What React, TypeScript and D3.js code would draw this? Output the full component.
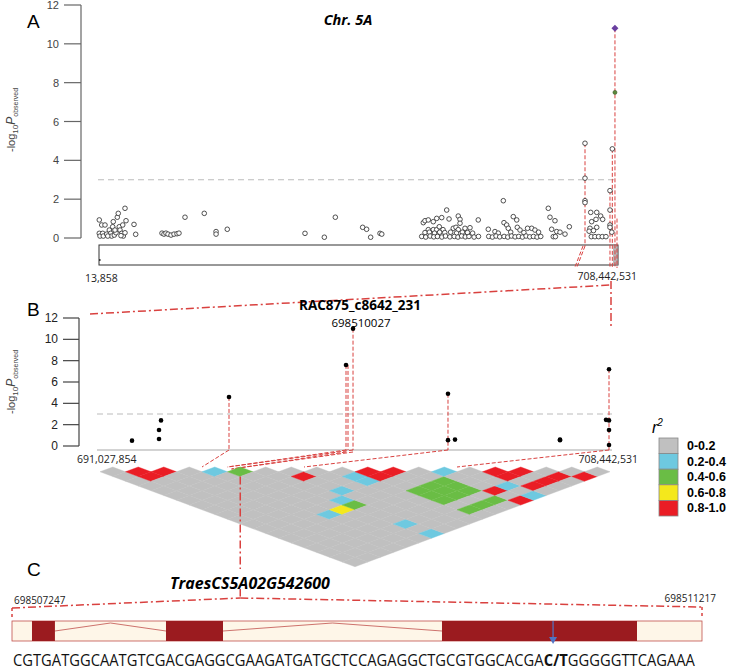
import React from 'react';
import * as d3 from 'd3';

// ---------- Panel A data: chromosome 5A (position Mb, -log10 P) ----------
const chrPos: number[] = [
  0.4, 3.7, 8.2, 0.4, 1.4, 5.1, 5.9, 14.1, 16.0, 17.3, 18.7, 19.5, 20.9, 23.2, 25.0, 26.3, 27.7, 28.7, 31.0, 32.4, 33.2, 35.5, 36.9, 35.5, 47.8, 50.1, 21.8, 10.5, 12.0, 30.0,
  86.0, 88.7, 91.4, 94.2, 98.3, 102.4, 106.5, 109.2, 117.4, 143.7, 159.8, 159.8, 175.1, 281.2, 307.6, 322.6, 359.9, 365.3, 370.8, 383.6, 386.0,
  442.7, 445.0, 449.5, 456.3, 461.0, 467.8, 474.6, 477.8, 490.4, 492.8, 492.8, 517.7, 449.5, 456.3, 461.0, 469.6, 464.5, 483.6, 487.3, 490.4, 499.6, 506.4,
  445, 451, 458, 465, 472, 480, 488, 496, 503, 510,
  440.5, 446, 452, 457, 462, 468, 473, 479, 485, 490, 495, 500, 505, 512, 518,
  551.9, 531.4, 540.5, 552.8, 556.5, 558.7, 565.5, 570.2, 571.0, 574.7, 590.6, 595.1, 600, 545, 562, 580, 585,
  532, 537, 542, 547, 553, 558, 563, 568, 573, 578, 583, 588, 593, 598, 603,
  613.3, 615.6, 622.4, 617.9, 624.8, 620.1, 623, 636.1, 642, 629.3,
  663.4, 663.4, 663.4, 663.4,
  671.2, 679.4, 672.5, 678.4, 684.8, 687.5, 670.2, 679.4, 669, 675, 672, 677, 682, 687, 692, 697.5, 697.5, 700.7, 697.5, 697.5, 700,
];
const chrLogP: number[] = [
  0.93, 0.67, 0.67, 0.24, 0.1, 0.24, 0.1, 0.41, 0.24, 0.1, 0.58, 0.84, 0.15, 0.27, 1.07, 1.27, 0.58, 0.41, 0.24, 0.67, 0.1, 1.53, 0.89, 0.27, 0.7, 0.19, 0.41, 0.2, 0.1, 0.12,
  0.25, 0.2, 0.25, 0.2, 0.15, 0.2, 0.22, 0.25, 1.07, 1.27, 0.33, 0.2, 0.45, 0.24, 0.04, 1.07, 0.55, 0.45, 0.04, 0.24, 0.2,
  0.79, 0.89, 0.93, 0.84, 1.01, 1.05, 1.44, 0.98, 1.13, 0.96, 0.76, 0.93, 0.43, 0.43, 0.43, 0.43, 0.58, 0.5, 0.55, 0.43, 0.5, 0.53,
  0.28, 0.3, 0.25, 0.3, 0.28, 0.3, 0.25, 0.3, 0.28, 0.25,
  0.08, 0.05, 0.1, 0.06, 0.08, 0.05, 0.1, 0.06, 0.08, 0.05, 0.1, 0.06, 0.08, 0.05, 0.08,
  1.92, 0.45, 0.33, 0.79, 0.67, 0.5, 1.1, 0.93, 0.55, 0.41, 0.5, 0.41, 0.3, 0.25, 0.3, 0.28, 0.5,
  0.08, 0.05, 0.1, 0.06, 0.08, 0.05, 0.1, 0.06, 0.08, 0.05, 0.1, 0.06, 0.08, 0.05, 0.08,
  1.53, 1.07, 0.89, 0.45, 0.33, 0.07, 0.07, 0.2, 0.58, 0.3,
  4.88, 3.08, 1.92, 1.82,
  1.32, 1.32, 0.84, 0.96, 1.13, 0.96, 0.5, 0.55, 0.35, 0.38, 0.07, 0.07, 0.07, 0.07, 0.07, 1.44, 2.44, 4.59, 0.67, 0.55, 0.3,
];
const chrLead: [number, number] = [704.3, 10.8];
const chrSecond: [number, number] = [704.3, 7.5];
const chrHighlight: [number, number][] = [[697.5, 2.44], [700.7, 4.59], [704.3, 10.8]];
const chrHighlightLeft: [number, number] = [663.4, 4.88];
const chrStart = 0.013858;
const chrEnd = 708.442531;
const chrZoomFrom = 701.6;
const chrTicks = [0, 2, 4, 6, 8, 10, 12];

// ---------- Panel B data: region (position Mb, -log10 P) ----------
const regPos: number[] = [692.216, 693.133, 693.133, 693.201, 695.509, 699.481, 699.719, 702.943, 702.943, 703.181, 706.745, 706.745, 708.307, 708.409, 708.409, 708.409, 708.409];
const regLogP: number[] = [0.5, 1.5, 0.65, 2.4, 4.6, 7.6, 11.0, 4.9, 0.55, 0.6, 0.6, 0.55, 2.45, 7.2, 2.4, 1.5, 0.1];
const regStems: number[] = [695.509, 699.481, 699.719, 702.943, 708.409];
const regStemTops: number[] = [4.6, 7.6, 11.0, 4.9, 7.2];
const regStart = 691.027854;
const regEnd = 708.442531;
const regToLd: [number, number][] = [[695.509, 4], [699.481, 5], [699.719, 5], [702.943, 8], [708.409, 14]];
const threshold = 3;

// ---------- LD heatmap (r2 class per SNP pair; unspecified = 0-0.2) ----------
const ldN = 21;
const ldRed: [number, number][] = [[1, 2], [2, 3], [1, 3], [7, 9], [10, 11], [11, 12], [10, 12], [15, 16], [16, 17], [15, 17], [13, 18], [15, 19], [16, 19], [17, 19], [13, 20], [18, 20]];
const ldCyan: [number, number][] = [[4, 5], [9, 11], [9, 12], [13, 14], [7, 12], [6, 13], [4, 14], [14, 18], [14, 20], [6, 18], [6, 20]];
const ldGreen: [number, number][] = [[5, 6], [10, 15], [10, 16], [10, 17], [11, 15], [11, 16], [11, 17], [12, 15], [12, 16], [12, 17], [10, 19], [11, 19], [12, 19], [6, 14]];
const ldYellow: [number, number][] = [[5, 14]];
const ldGeneCell: [number, number] = [5, 6];
const r2Labels = ['0-0.2', '0.2-0.4', '0.4-0.6', '0.6-0.8', '0.8-1.0'];
const r2Colors = ['#c0c0c0', '#6ec9e0', '#6abd45', '#f4e81c', '#ea1d25'];

// ---------- Panel C: gene model ----------
const geneName = 'TraesCS5A02G542600';
const geneStart = 698507247;
const geneEnd = 698511217;
const exons: [number, number][] = [[698507362, 698507494], [698508133, 698508461], [698509721, 698510843]];
const snpGenePos = 698510360;
const seqLeft = 'CGTGATGGCAATGTCGACGAGGCGAAGATGATGCTCCAGAGGCTGCGTGGCACGA';
const seqSnp = 'C/T';
const seqRight = 'GGGGGTTCAGAAA';
const leadName = 'RAC875_c8642_231';
const leadPosLabel = '698510027';

const RED = '#d9413f';
const SANS = 'Liberation Sans, Arial, sans-serif';
const CAL = 'Open Sans, Noto Sans, sans-serif';

function measure(text: string, font: string): number {
  try {
    const c = document.createElement('canvas').getContext('2d');
    if (!c) return text.length * 9.6;
    c.font = font;
    return c.measureText(text).width;
  } catch {
    return text.length * 9.6;
  }
}

export default function App() {
  const xA = d3.scaleLinear().domain([chrStart, chrEnd]).range([99, 618]);
  const yA = d3.scaleLinear().domain([0, 12]).range([238, 5]);
  const xB = d3.scaleLinear().domain([regStart, regEnd]).range([97, 610]);
  const yB = d3.scaleLinear().domain([0, 12]).range([446, 318]);
  const ldX = d3.scaleLinear().domain([0, ldN - 1]).range([100, 610]);
  const ldTop = 467;
  const cw = ldX(1) - ldX(0);
  const ch = 9.5;
  const xG = d3.scaleLinear().domain([geneStart, geneEnd]).range([12, 702]);

  const catMap = new Map<string, number>();
  ldCyan.forEach(([i, j]) => catMap.set(`${i}-${j}`, 1));
  ldGreen.forEach(([i, j]) => catMap.set(`${i}-${j}`, 2));
  ldYellow.forEach(([i, j]) => catMap.set(`${i}-${j}`, 3));
  ldRed.forEach(([i, j]) => catMap.set(`${i}-${j}`, 4));
  const cells: { i: number; j: number; c: number }[] = [];
  for (let i = 0; i < ldN; i++) for (let j = i + 1; j < ldN; j++) cells.push({ i, j, c: catMap.get(`${i}-${j}`) ?? 0 });
  const cellCenter = (i: number, j: number) => [ldX((i + j) / 2), ldTop + ((j - i) * ch) / 2];
  const diamond = (i: number, j: number) => {
    const [cx, cy] = cellCenter(i, j);
    return `${cx},${cy - ch / 2} ${cx + cw / 2},${cy} ${cx},${cy + ch / 2} ${cx - cw / 2},${cy}`;
  };

  const yLabel = (x: number, y: number) => (
    <text transform={`translate(${x},${y}) rotate(-90)`} textAnchor="middle" fontFamily={SANS} fill="#444" fontSize={11}>
      -log<tspan fontSize={8} dy={3}>10</tspan><tspan fontSize={12} fontStyle="italic" dy={-3}>P</tspan><tspan fontSize={7} dy={3}>observed</tspan>
    </text>
  );

  const [gcx, gcy] = cellCenter(ldGeneCell[0], ldGeneCell[1]);

  // sequence layout
  const fN = '16px "Open Sans"';
  const fB = 'bold 16px "Open Sans"';
  const w1 = measure(seqLeft, fN);
  const w2 = measure(seqSnp, fB);
  const w3 = measure(seqRight, fN);
  const sx = 682 / (w1 + w2 + w3);

  return (
    <svg width={730} height={670} style={{ position: 'absolute', left: 0, top: 0, background: '#fff' }}>
      {/* ================= Panel A ================= */}
      <text x={27} y={28} fontFamily={SANS} fontSize={19}>A</text>
      <text x={348} y={25} textAnchor="middle" fontFamily={CAL} fontSize={14.5} fontWeight="bold" fontStyle="italic">Chr. 5A</text>
      {yLabel(15, 120)}
      <line x1={81} x2={81} y1={yA(0)} y2={yA(12)} stroke="#666" strokeWidth={1.2} />
      {chrTicks.map((t) => (
        <g key={'ta' + t}>
          <line x1={64} x2={81} y1={yA(t)} y2={yA(t)} stroke="#666" strokeWidth={1.2} />
          <text x={59} y={yA(t) + 4} textAnchor="end" fontFamily={SANS} fontSize={11} fill="#444">{t}</text>
        </g>
      ))}
      <line x1={98} x2={618} y1={yA(threshold)} y2={yA(threshold)} stroke="#bbb" strokeDasharray="6,4" />
      <rect x={xA(chrStart)} y={245} width={xA(chrEnd) - xA(chrStart)} height={20} fill="none" stroke="#333" />
      <rect x={xA(chrZoomFrom)} y={246} width={xA(chrEnd) - xA(chrZoomFrom)} height={19} fill="#9a9a9a" opacity={0.7} />
      <rect x={xA(chrStart)} y={259} width={1.5} height={2} fill="#333" />
      {/* red dashed highlights */}
      <line x1={xA(chrHighlightLeft[0])} x2={xA(chrHighlightLeft[0])} y1={yA(chrHighlightLeft[1])} y2={246} stroke={RED} strokeDasharray="4,2" />
      <line x1={xA(chrHighlightLeft[0])} x2={xA(chrHighlightLeft[0]) - 8} y1={246} y2={267} stroke={RED} strokeDasharray="4,2" />
      <line x1={xA(chrHighlightLeft[0]) - 2} x2={xA(chrHighlightLeft[0]) - 10} y1={246} y2={267} stroke={RED} strokeDasharray="4,2" />
      {chrHighlight.map(([p, v], k) => (
        <line key={'ha' + k} x1={xA(p)} x2={xA(p)} y1={yA(v)} y2={268} stroke={RED} strokeDasharray="4,2" />
      ))}
      <line x1={xA(chrEnd) - 1} x2={xA(chrEnd) - 1} y1={yA(1)} y2={268} stroke={RED} strokeDasharray="4,2" />
      {chrPos.map((p, k) => (
        <circle key={'pa' + k} cx={xA(p)} cy={yA(chrLogP[k])} r={2.3} fill="#fff" stroke="#333" strokeWidth={0.85} />
      ))}
      <circle cx={xA(chrSecond[0])} cy={yA(chrSecond[1])} r={2} fill="#5b8a3c" stroke="#3d5a2a" strokeWidth={0.6} />
      <path d={`M${xA(chrLead[0])},${yA(chrLead[1]) - 3.5} l3.5,3.5 l-3.5,3.5 l-3.5,-3.5 Z`} fill="#6a3fa0" />
      <text x={85} y={282} fontFamily={CAL} fontSize={10.5} fill="#222">13,858</text>
      <text x={637} y={280} textAnchor="end" fontFamily={CAL} fontSize={10.5} fill="#222">708,442,531</text>

      {/* connector A -> B */}
      <line x1={90} y1={314} x2={611} y2={285} stroke={RED} strokeWidth={1.5} strokeDasharray="8,3,2,3" />
      <line x1={611} y1={281} x2={611} y2={326} stroke={RED} strokeWidth={1.5} strokeDasharray="8,3,2,3" />

      {/* ================= Panel B ================= */}
      <text x={27} y={316} fontFamily={SANS} fontSize={19}>B</text>
      {yLabel(15, 382)}
      <line x1={79} x2={79} y1={yB(0)} y2={yB(12)} stroke="#444" strokeWidth={1.2} />
      {chrTicks.map((t) => (
        <g key={'tb' + t}>
          <line x1={63} x2={79} y1={yB(t)} y2={yB(t)} stroke="#444" strokeWidth={1.2} />
          <text x={58} y={yB(t) + 4} textAnchor="end" fontFamily={SANS} fontSize={12} fill="#222">{t}</text>
        </g>
      ))}
      <line x1={97} x2={612} y1={yB(threshold)} y2={yB(threshold)} stroke="#bbb" strokeDasharray="6,4" />
      <line x1={97} x2={612} y1={450} y2={450} stroke="#c4c4c4" strokeWidth={1.5} />
      {regStems.map((p, k) => (
        <g key={'st' + k}>
          <line x1={xB(p)} x2={xB(p)} y1={yB(regStemTops[k])} y2={450} stroke={RED} strokeDasharray="4,2" />
          {k === 1 && <line x1={xB(p) + 2} x2={xB(p) + 2} y1={yB(regStemTops[k])} y2={450} stroke={RED} strokeDasharray="4,2" />}
        </g>
      ))}
      {regToLd.map(([p, idx], k) => (
        <g key={'cn' + k}>
          <line x1={xB(p)} y1={450} x2={ldX(idx)} y2={ldTop} stroke={RED} strokeDasharray="4,2" />
          {k > 0 && k < 3 && <line x1={xB(p)} y1={452} x2={ldX(idx) + 4} y2={ldTop + 2} stroke={RED} strokeDasharray="4,2" />}
        </g>
      ))}
      {regPos.map((p, k) => (
        <circle key={'pb' + k} cx={xB(p)} cy={yB(regLogP[k])} r={2.3} fill="#000" />
      ))}
      <text x={360} y={310} textAnchor="middle" fontFamily={CAL} fontSize={13.5} fontWeight="bold">{leadName}</text>
      <text x={361} y={327} textAnchor="middle" fontFamily={CAL} fontSize={11.5}>{leadPosLabel}</text>
      <text x={77} y={463} fontFamily={CAL} fontSize={10.5} fill="#222">691,027,854</text>
      <text x={638} y={463} textAnchor="end" fontFamily={CAL} fontSize={10.5} fill="#222">708,442,531</text>

      {/* ================= LD heatmap ================= */}
      {cells.map((c) => (
        <polygon key={`c${c.i}-${c.j}`} points={diamond(c.i, c.j)} fill={r2Colors[c.c]} stroke={r2Colors[c.c]} strokeWidth={0.4} />
      ))}
      <line x1={gcx} x2={gcx} y1={gcy + ch / 2} y2={598} stroke={RED} strokeWidth={1.5} strokeDasharray="8,3,2,3" />

      {/* legend */}
      <text x={652} y={433} fontFamily={SANS} fontSize={16} fontStyle="italic">r<tspan fontSize={10} dy={-7}>2</tspan></text>
      {r2Labels.map((l, k) => (
        <g key={'lg' + k}>
          <rect x={659} y={438 + k * 15.6} width={19} height={15.6} fill={r2Colors[k]} stroke="#888" strokeWidth={0.8} />
          <text x={687} y={438 + k * 15.6 + 12} fontFamily={SANS} fontSize={12.5} fontWeight="bold">{l}</text>
        </g>
      ))}

      {/* ================= Panel C ================= */}
      <text x={27} y={576} fontFamily={SANS} fontSize={19}>C</text>
      <rect x={165} y={569} width={172} height={20} fill="#fff" />
      <text x={250} y={589} textAnchor="middle" fontFamily={CAL} fontSize={16} fontWeight="bold" fontStyle="italic">{geneName}</text>
      <line x1={xG(geneStart)} y1={608} x2={gcx} y2={598} stroke={RED} strokeWidth={1.5} strokeDasharray="8,3,2,3" />
      <line x1={gcx} y1={598} x2={xG(geneEnd)} y2={607} stroke={RED} strokeWidth={1.5} strokeDasharray="8,3,2,3" />
      <line x1={xG(geneStart)} x2={xG(geneStart)} y1={608} y2={617} stroke={RED} strokeWidth={1.5} strokeDasharray="3,3" />
      <line x1={xG(geneEnd)} x2={xG(geneEnd)} y1={607} y2={617} stroke={RED} strokeWidth={1.5} strokeDasharray="3,3" />
      <text x={14} y={604} fontFamily={CAL} fontSize={10} fill="#222">{geneStart}</text>
      <text x={716} y={602} textAnchor="end" fontFamily={CAL} fontSize={10} fill="#222">{geneEnd}</text>
      <rect x={xG(geneStart)} y={621} width={xG(geneEnd) - xG(geneStart)} height={20} fill="#fef6e8" stroke="#c0504d" strokeWidth={0.8} />
      {exons.slice(0, -1).map(([s, e], k) => {
        const a = xG(e);
        const b = xG(exons[k + 1][0]);
        return <polyline key={'in' + k} points={`${a},631 ${(a + b) / 2},623 ${b},631`} fill="none" stroke="#c0504d" strokeWidth={0.8} />;
      })}
      {exons.map(([s, e], k) => (
        <rect key={'ex' + k} x={xG(s)} y={621} width={xG(e) - xG(s)} height={20} fill="#9b1b1f" />
      ))}
      <line x1={xG(snpGenePos)} x2={xG(snpGenePos)} y1={621} y2={638} stroke="#4f74c4" strokeWidth={1.2} />
      <path d={`M${xG(snpGenePos) - 4},637 L${xG(snpGenePos) + 4},637 L${xG(snpGenePos)},644 Z`} fill="#4f74c4" />
      <g transform={`translate(13,666) scale(${sx},1)`} fill="#111">
        <text x={0} y={0} fontFamily={CAL} fontSize={16}>{seqLeft}</text>
        <text x={w1} y={0} fontFamily={CAL} fontSize={16} fontWeight="bold">{seqSnp}</text>
        <text x={w1 + w2} y={0} fontFamily={CAL} fontSize={16}>{seqRight}</text>
      </g>
    </svg>
  );
}
